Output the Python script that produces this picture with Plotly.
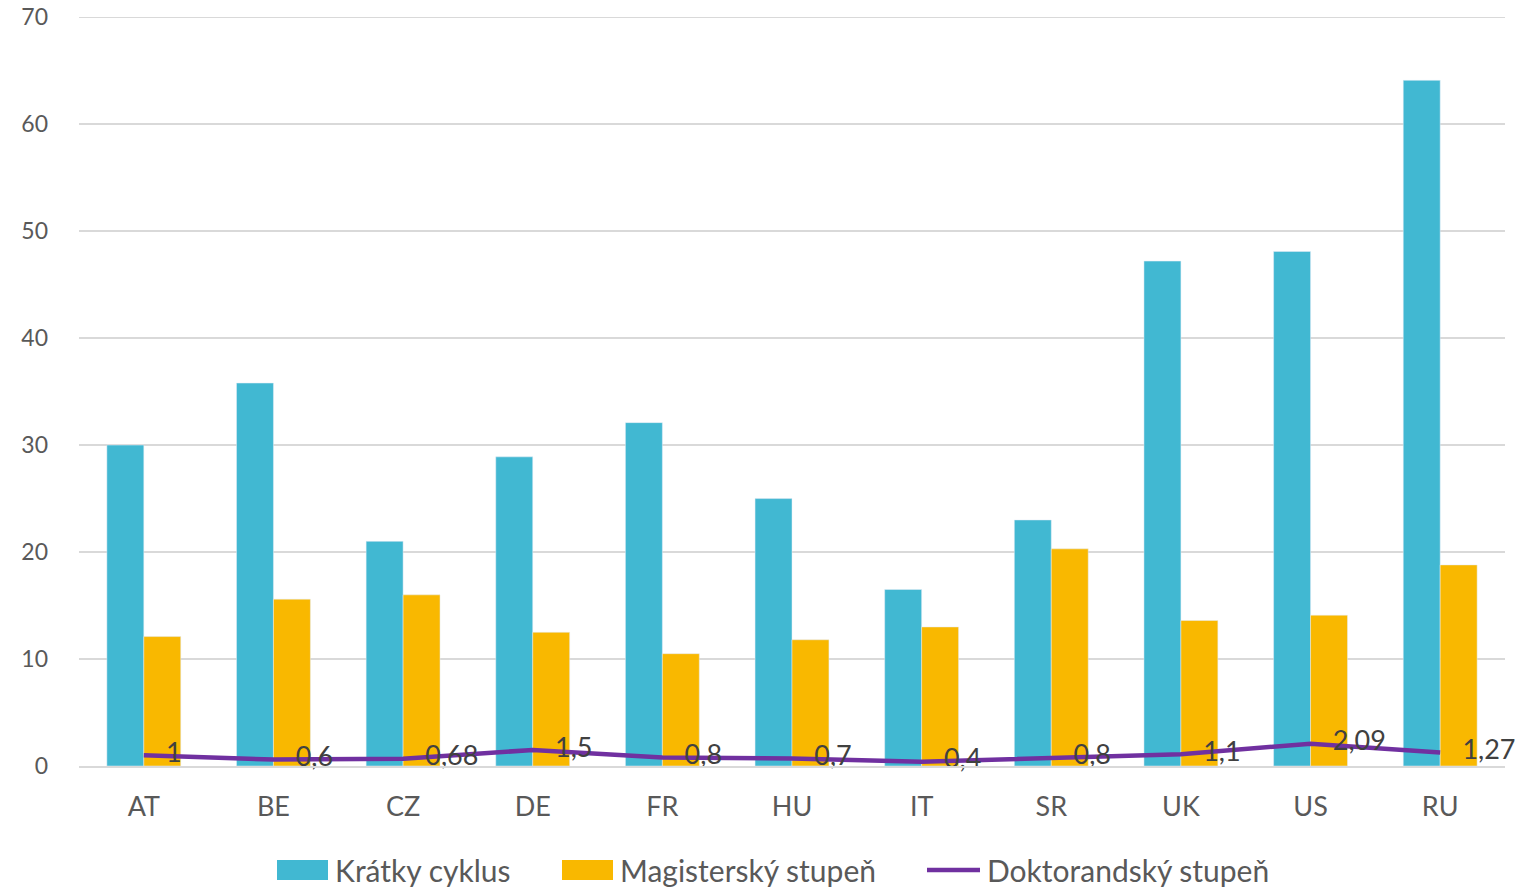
import plotly.graph_objects as go

countries = ["AT", "BE", "CZ", "DE", "FR", "HU", "IT", "SR", "UK", "US", "RU"]
kratky_cyklus = [30, 35.8, 21.0, 28.9, 32.1, 25.0, 16.5, 23.0, 47.2, 48.1, 64.1]
magistersky = [12.1, 15.6, 16.0, 12.5, 10.5, 11.8, 13.0, 20.3, 13.6, 14.1, 18.8]
doktorandsky = [1, 0.6, 0.68, 1.5, 0.8, 0.7, 0.4, 0.8, 1.1, 2.09, 1.27]

series_names = ["Krátky cyklus", "Magisterský stupeň", "Doktorandský stupeň"]
series_colors = ["#41B8D2", "#F9B800", "#7030A0"]

FONT = "Lato, 'Open Sans', sans-serif"
TEXT_COLOR = "#595959"
GRID = "#D9D9D9"
Y_MAX = 70
# page body has an 8px margin, so the figure is a bit smaller than the window
OFF = 8
W, H = 1535 - OFF, 890 - OFF
L, R, T, B = 79 - OFF, 30, 17 - OFF, 124


def px_x(px):
    return (px - OFF - L) / (W - L - R)


def px_y(py):
    return (H - B - (py - OFF)) / (H - B - T)


fig = go.Figure()
fig.add_trace(go.Bar(x=countries, y=kratky_cyklus, name=series_names[0],
                     marker=dict(color=series_colors[0])))
fig.add_trace(go.Bar(x=countries, y=magistersky, name=series_names[1],
                     marker=dict(color=series_colors[1])))
fig.add_trace(go.Scatter(
    x=countries, y=doktorandsky, name=series_names[2],
    mode="lines+markers+text",
    line=dict(color=series_colors[2], width=4.5),
    marker=dict(size=34, opacity=0),
    text=[f"{v:g}".replace(".", ",") for v in doktorandsky],
    textposition="middle right",
    textfont=dict(size=27, color="#404040", family=FONT),
    cliponaxis=False,
))

# top gridline (plotly drops the one sitting on the plot edge)
shapes = [dict(type="line", xref="paper", yref="y", x0=0, x1=1, y0=Y_MAX, y1=Y_MAX,
               line=dict(color=GRID, width=1.5), layer="below")]
annotations = []

# hand-drawn legend (Excel style large swatches)
legend_items = [(277, 333, "rect"), (562, 618, "rect"), (927, 985, "line")]
for (x0, tx, kind), name, color in zip(legend_items, series_names, series_colors):
    if kind == "rect":
        shapes.append(dict(type="rect", xref="paper", yref="paper",
                           x0=px_x(x0), x1=px_x(x0 + 51), y0=px_y(880), y1=px_y(860),
                           fillcolor=color, line=dict(width=0)))
    else:
        shapes.append(dict(type="line", xref="paper", yref="paper",
                           x0=px_x(x0), x1=px_x(x0 + 53), y0=px_y(870), y1=px_y(870),
                           line=dict(color=color, width=4.5)))
    annotations.append(dict(text=name, xref="paper", yref="paper",
                            x=px_x(tx), y=px_y(870), xanchor="left", yanchor="middle",
                            showarrow=False, font=dict(size=30, color=TEXT_COLOR)))

fig.update_layout(
    width=W, height=H,
    margin=dict(l=L, r=R, t=T, b=B),
    plot_bgcolor="white", paper_bgcolor="white",
    barmode="group", bargap=0.43, bargroupgap=0,
    font=dict(family=FONT, size=24, color=TEXT_COLOR),
    showlegend=False,
    shapes=shapes,
    annotations=annotations,
    xaxis=dict(
        range=[-0.5, len(countries) - 0.5],
        showgrid=False, showline=True, linecolor=GRID, linewidth=1.5,
        ticks="", tickfont=dict(size=27, color=TEXT_COLOR),
        ticklabelstandoff=16, automargin=False,
    ),
    yaxis=dict(
        range=[0, Y_MAX + 0.02], tick0=0, dtick=10,
        showgrid=True, gridcolor=GRID, gridwidth=1.5,
        zeroline=False, showline=False, ticks="", ticklabelstandoff=30,
        ticklabeloverflow="allow",
        tickfont=dict(size=23, color=TEXT_COLOR), automargin=False,
    ),
)

fig.write_html("out.html")
